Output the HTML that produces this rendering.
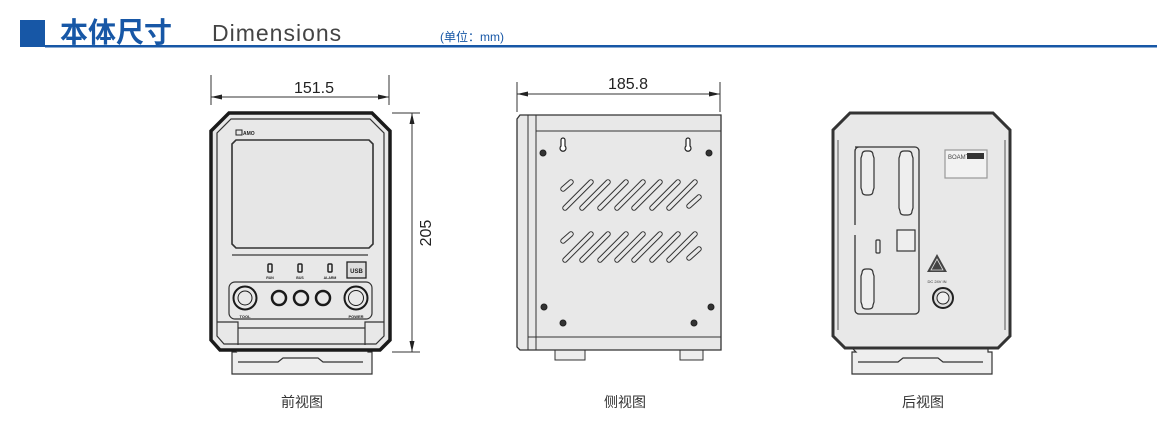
<!DOCTYPE html>
<html><head><meta charset="utf-8"><style>
html,body{margin:0;padding:0;background:#fff;width:1157px;height:435px;overflow:hidden}
svg{display:block}
</style></head><body>
<svg width="1157" height="435" viewBox="0 0 1157 435" xmlns="http://www.w3.org/2000/svg" font-family="Liberation Sans, Noto Sans CJK SC, sans-serif">
<!-- header -->
<rect x="20" y="20" width="25" height="27" fill="#1757a6"/>
<rect x="45" y="45" width="1112" height="2.5" fill="#1757a6"/>
<text x="60" y="42" font-size="28" fill="#1757a6" font-family="Noto Sans CJK SC, sans-serif" font-weight="bold">本体尺寸</text>
<text x="212" y="41" font-size="23" fill="#444" letter-spacing="1">Dimensions</text>
<text x="440" y="41" font-size="12" fill="#1757a6" font-family="Liberation Sans, Noto Sans CJK SC, sans-serif">(单位：mm)</text>

<!-- dimension lines -->
<g stroke="#333" stroke-width="1" fill="none">
<line x1="211" y1="75" x2="211" y2="105"/><line x1="389" y1="75" x2="389" y2="105"/>
<line x1="211" y1="97" x2="389" y2="97"/>
<line x1="392" y1="113" x2="420" y2="113"/><line x1="392" y1="352" x2="420" y2="352"/>
<line x1="412" y1="113" x2="412" y2="352"/>
<line x1="517" y1="82" x2="517" y2="112"/><line x1="720" y1="82" x2="720" y2="112"/>
<line x1="517" y1="94" x2="720" y2="94"/>
</g>
<g fill="#222">
<polygon points="211,97 222,94.5 222,99.5"/><polygon points="389,97 378,94.5 378,99.5"/>
<polygon points="412,113 409.5,124 414.5,124"/><polygon points="412,352 409.5,341 414.5,341"/>
<polygon points="517,94 528,91.5 528,96.5"/><polygon points="720,94 709,91.5 709,96.5"/>
</g>
<text x="314" y="93" font-size="16" fill="#222" text-anchor="middle">151.5</text>
<text x="628" y="89" font-size="16" fill="#222" text-anchor="middle">185.8</text>
<text x="431" y="233" font-size="16" fill="#222" text-anchor="middle" transform="rotate(-90 431 233)">205</text>

<!-- FRONT -->
<g>
<path d="M232,348 h136 v4 h4 v22 h-140 v-22 h4z" fill="#eee" stroke="#333" stroke-width="1.2"/>
<path d="M238,362 h40 l5,-4 h35 l5,4 h40" fill="none" stroke="#333" stroke-width="1.2"/>
<polygon points="229,113 372,113 390,131 390,340 380,350 220,350 211,340 211,131" fill="#e8e8e8" stroke="#1a1a1a" stroke-width="3.5"/>
<polygon points="231,119 370,119 384,133 384,336 376,344 224,344 217,336 217,133" fill="none" stroke="#333" stroke-width="1.2"/>
<polygon points="236,140 369,140 373,144 373,244 369,248 236,248 232,244 232,144" fill="#e6e6e6" stroke="#333" stroke-width="1.6"/>
<rect x="236" y="130" width="6" height="5" fill="none" stroke="#222" stroke-width="1"/>
<text x="243" y="135" font-size="5" font-weight="bold" fill="#222">AMO</text>
<line x1="232" y1="255" x2="368" y2="255" stroke="#555" stroke-width="1.5"/>
<g fill="none" stroke="#222" stroke-width="1.5">
<rect x="268" y="264" width="4" height="8" rx="1"/><rect x="298" y="264" width="4" height="8" rx="1"/><rect x="328" y="264" width="4" height="8" rx="1"/>
</g>
<g font-size="3.5" fill="#222" text-anchor="middle" font-weight="bold"><text x="270" y="279">RUN</text><text x="300" y="279">BUS</text><text x="330" y="279">ALARM</text></g>
<rect x="347" y="262" width="19" height="16" fill="#ddd" stroke="#222" stroke-width="1.3"/>
<text x="356.5" y="273" font-size="6" fill="#222" text-anchor="middle" font-weight="bold">USB</text>
<rect x="229" y="282" width="143" height="37" rx="6" fill="none" stroke="#333" stroke-width="1.2"/>
<g fill="none" stroke="#1a1a1a">
<circle cx="245" cy="298" r="11.5" stroke-width="2"/><circle cx="245" cy="298" r="7" stroke-width="1"/>
<circle cx="279" cy="298" r="7" stroke-width="2.5"/><circle cx="301" cy="298" r="7" stroke-width="2.5"/><circle cx="323" cy="298" r="7" stroke-width="2.5"/>
<circle cx="356" cy="298" r="11.5" stroke-width="2"/><circle cx="356" cy="298" r="7.5" stroke-width="1"/>
</g>
<text x="245" y="318" font-size="4" font-weight="bold" fill="#222" text-anchor="middle">TOOL</text>
<text x="356" y="318" font-size="4" font-weight="bold" fill="#222" text-anchor="middle">POWER</text>
<path d="M217,322 L238,322 L238,345 M384,322 L365,322 L365,345 M238,328 H365" fill="none" stroke="#333" stroke-width="1.2"/>
</g>

<!-- SIDE -->
<g>
<rect x="555" y="350" width="30" height="10" fill="#eee" stroke="#333"/>
<rect x="680" y="350" width="23" height="10" fill="#eee" stroke="#333"/>
<path d="M520,115 H721 V350 H520 L517,347 V119z" fill="#e8e8e8" stroke="#333" stroke-width="1.3"/>
<g stroke="#333" stroke-width="1" fill="none">
<line x1="528" y1="115" x2="528" y2="350"/><line x1="536" y1="115" x2="536" y2="350"/>
<line x1="536" y1="131" x2="721" y2="131"/><line x1="528" y1="337" x2="721" y2="337"/>
</g>
<g fill="#333" stroke="#222" stroke-width="1">
<circle cx="543" cy="153" r="3"/><circle cx="709" cy="153" r="3"/><circle cx="544" cy="307" r="3"/><circle cx="711" cy="307" r="3"/><circle cx="563" cy="323" r="3"/><circle cx="694" cy="323" r="3"/>
</g>
<g fill="#fff" stroke="#222" stroke-width="1.2">
<path d="M561,146 a3,3 0 1,0 4,0 v-6 a2,2 0 0,0 -4,0z"/><path d="M686,146 a3,3 0 1,0 4,0 v-6 a2,2 0 0,0 -4,0z"/>
</g>
<g stroke-linecap="round">
<g stroke="#333" stroke-width="5.5">
<line x1="571" y1="182" x2="563" y2="189"/><line x1="699" y1="197" x2="689" y2="206"/>
<line x1="591" y1="182" x2="565" y2="208"/><line x1="608" y1="182" x2="582" y2="208"/><line x1="626" y1="182" x2="600" y2="208"/><line x1="643" y1="182" x2="617" y2="208"/><line x1="660" y1="182" x2="634" y2="208"/><line x1="678" y1="182" x2="652" y2="208"/><line x1="695" y1="182" x2="669" y2="208"/>
<line x1="571" y1="234" x2="563" y2="241"/><line x1="699" y1="249" x2="689" y2="258"/>
<line x1="591" y1="234" x2="565" y2="260"/><line x1="608" y1="234" x2="582" y2="260"/><line x1="626" y1="234" x2="600" y2="260"/><line x1="643" y1="234" x2="617" y2="260"/><line x1="660" y1="234" x2="634" y2="260"/><line x1="678" y1="234" x2="652" y2="260"/><line x1="695" y1="234" x2="669" y2="260"/>
</g>
<g stroke="#e8e8e8" stroke-width="3.5">
<line x1="571" y1="182" x2="563" y2="189"/><line x1="699" y1="197" x2="689" y2="206"/>
<line x1="591" y1="182" x2="565" y2="208"/><line x1="608" y1="182" x2="582" y2="208"/><line x1="626" y1="182" x2="600" y2="208"/><line x1="643" y1="182" x2="617" y2="208"/><line x1="660" y1="182" x2="634" y2="208"/><line x1="678" y1="182" x2="652" y2="208"/><line x1="695" y1="182" x2="669" y2="208"/>
<line x1="571" y1="234" x2="563" y2="241"/><line x1="699" y1="249" x2="689" y2="258"/>
<line x1="591" y1="234" x2="565" y2="260"/><line x1="608" y1="234" x2="582" y2="260"/><line x1="626" y1="234" x2="600" y2="260"/><line x1="643" y1="234" x2="617" y2="260"/><line x1="660" y1="234" x2="634" y2="260"/><line x1="678" y1="234" x2="652" y2="260"/><line x1="695" y1="234" x2="669" y2="260"/>
</g>
</g>
</g>

<!-- REAR -->
<g>
<path d="M852,348 h136 v4 h4 v22 h-140 v-22 h4z" fill="#eee" stroke="#333" stroke-width="1.2"/>
<path d="M858,362 h40 l5,-4 h35 l5,4 h40" fill="none" stroke="#333" stroke-width="1.2"/>
<polygon points="850,113 993,113 1010,130 1010,336 998,348 845,348 833,336 833,130" fill="#e8e8e8" stroke="#333" stroke-width="3"/>
<g stroke="#555" stroke-width="1" fill="none"><line x1="838" y1="140" x2="838" y2="330"/><line x1="1005" y1="140" x2="1005" y2="330"/></g>
<path d="M855,147 H915 a4,4 0 0,1 4,4 V310 a4,4 0 0,1 -4,4 H859 a4,4 0 0,1 -4,-4 V235 M855,225 V151 a4,4 0 0,1 4,-4" fill="none" stroke="#333" stroke-width="1.3"/>
<g fill="#eee" stroke="#333" stroke-width="1.2">
<path d="M862,155 q0,-4 4,-4 h3 q4,0 4,4 l1,3 v30 l-1,3 q0,4 -4,4 h-3 q-4,0 -4,-4 l-1,-3 v-30z"/>
<path d="M900,155 q0,-4 4,-4 h4 q4,0 4,4 l1,3 v50 l-1,3 q0,4 -4,4 h-4 q-4,0 -4,-4 l-1,-3 v-50z"/>
<path d="M862,273 q0,-4 4,-4 h3 q4,0 4,4 l1,3 v26 l-1,3 q0,4 -4,4 h-3 q-4,0 -4,-4 l-1,-3 v-26z"/>
<rect x="897" y="230" width="18" height="21"/>
<rect x="876" y="240" width="4" height="13" rx="1"/>
<rect x="945" y="150" width="42" height="28" fill="#f2f2f2" stroke="#999"/>
</g>
<text x="948" y="159" font-size="6" fill="#444">BOAMT</text>
<rect x="967" y="153" width="17" height="6" fill="#333"/>
<polygon points="937,254 947,272 927,272" fill="#444"/>
<polygon points="937,259 943,270 931,270" fill="none" stroke="#ddd" stroke-width="0.8"/>
<text x="937" y="283" font-size="4" fill="#333" text-anchor="middle">DC 24V IN</text>
<circle cx="943" cy="298" r="10" fill="#ddd" stroke="#222" stroke-width="2"/>
<circle cx="943" cy="298" r="6" fill="#eee" stroke="#222" stroke-width="1"/>
</g>

<!-- captions -->
<g font-size="14" fill="#333" text-anchor="middle" font-family="Noto Sans CJK SC, sans-serif">
<text x="302" y="407">前视图</text><text x="625" y="407">侧视图</text><text x="923" y="407">后视图</text>
</g>
</svg>
</body></html>
